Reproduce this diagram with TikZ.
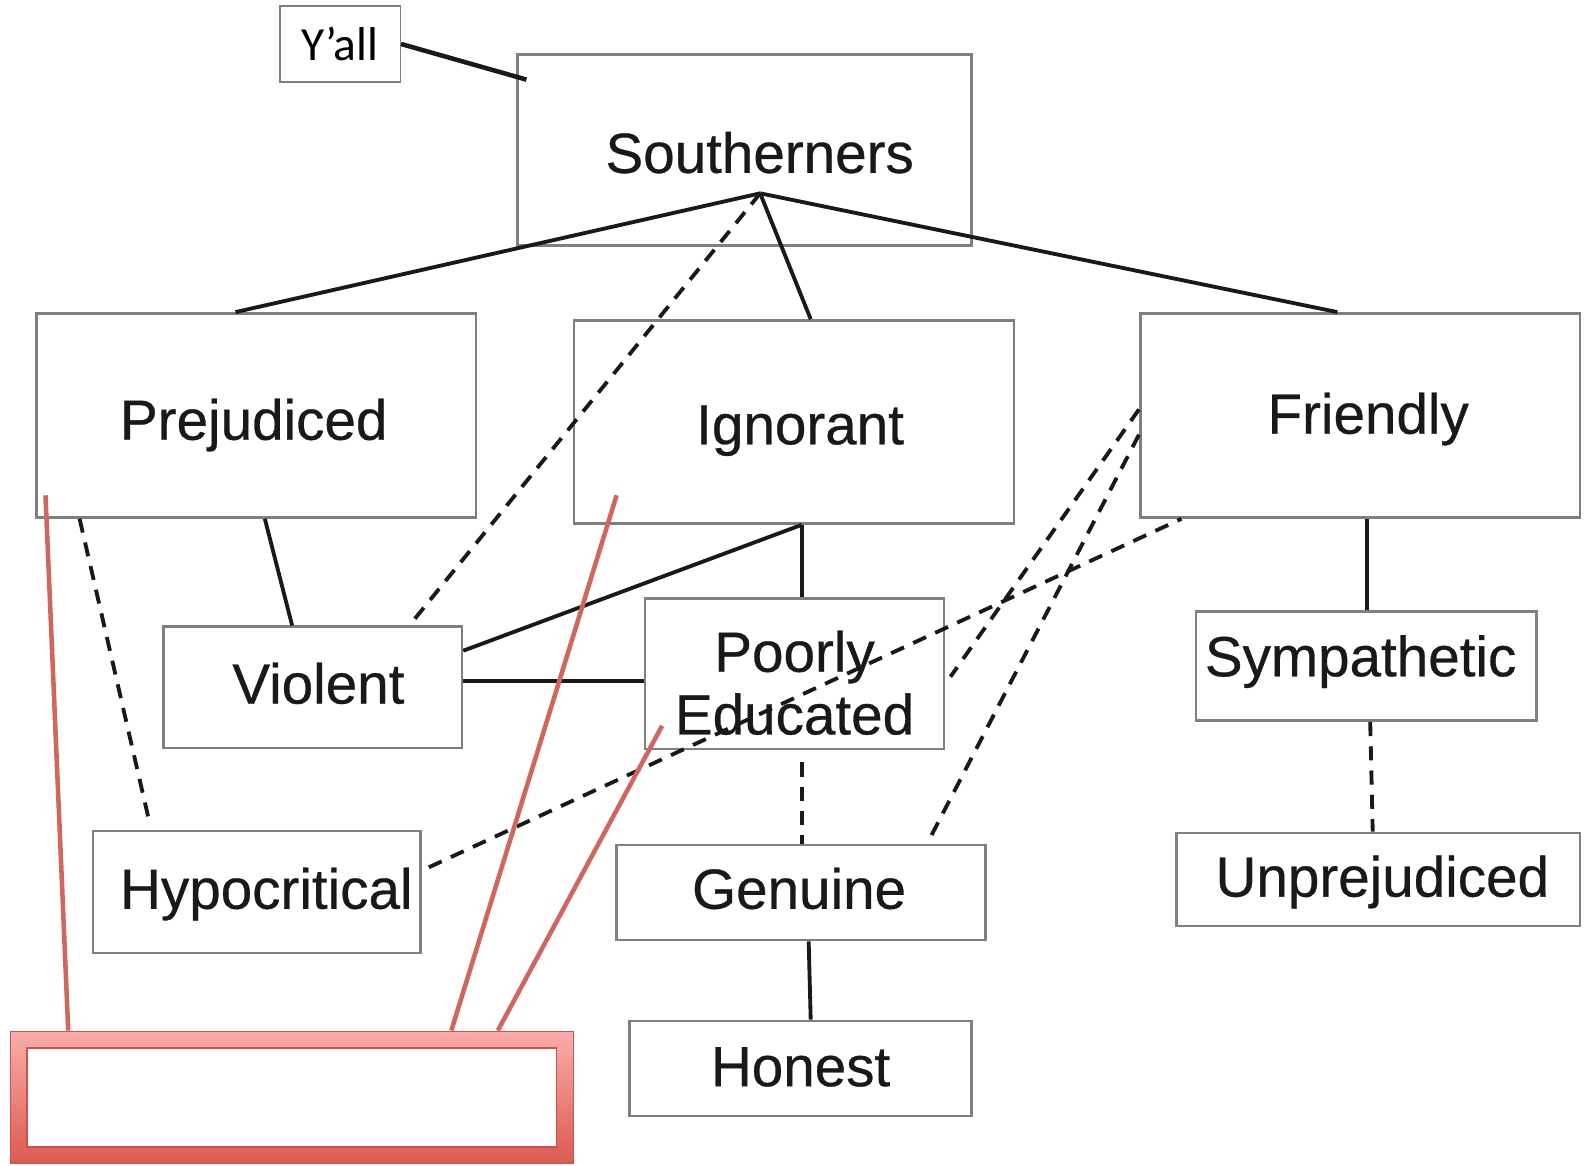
\documentclass[tikz,border=0pt]{standalone}
\usepackage{fontspec}
\setmainfont{Liberation Sans}
\newfontfamily\boxfont{Liberation Sans}[FakeBold=0.5]
\newfontfamily\calibrifont{Carlito}
\usetikzlibrary{calc}
\definecolor{boxgray}{HTML}{7F7F7F}
\definecolor{redline}{HTML}{D0675F}
\definecolor{redtop}{HTML}{FBADAA}
\definecolor{redbot}{HTML}{DB5A50}
\definecolor{rededge}{HTML}{C65550}
\tikzset{
  wordbox/.style={draw=boxgray, line width=2.5pt, fill=white, inner sep=0pt},
  wordtext/.style={font=\boxfont\fontsize{56}{62}\selectfont, text=black!90, align=center,
    inner sep=0pt, text height=40pt, text depth=0pt},
  link/.style={black!90, line width=3.8pt},
  dashlink/.style={black!90, line width=3.8pt, dash pattern=on 14pt off 10pt},
  redlink/.style={redline, line width=4.5pt},
}
\begin{document}
\begin{tikzpicture}[x=1pt,y=-1pt]
\useasboundingbox (0,0) rectangle (1568,1153);
% boxes
\node[wordbox, minimum width=449, minimum height=189,
  label={[wordtext, xshift=15pt, yshift=-2.5pt]center:Southerners}] (south) at (736.5,148.5) {};
\node[wordbox, minimum width=435, minimum height=202,
  label={[wordtext, xshift=-2.5pt, yshift=-4pt]center:Prejudiced}] (prej) at (253.5,411) {};
\node[wordbox, minimum width=435, minimum height=201,
  label={[wordtext, xshift=6pt, yshift=-2pt]center:Ignorant}] (ign) at (785.5,417.5) {};
\node[wordbox, minimum width=435, minimum height=202,
  label={[wordtext, xshift=8pt, yshift=2pt]center:Friendly}] (friend) at (1345.5,411) {};
\node[wordbox, minimum width=295, minimum height=120,
  label={[wordtext, xshift=5.5pt, yshift=4pt]center:Violent}] (viol) at (309.5,680) {};
\node[wordbox, minimum width=296, minimum height=149,
  label={[wordtext, text height=, text depth=, yshift=-9pt]center:Poorly\\Educated}] (poor) at (786,666.5) {};
\node[wordbox, minimum width=337, minimum height=108,
  label={[wordtext, xshift=-5.5pt, yshift=10pt]center:Sympathetic}] (symp) at (1351.5,659) {};
\node[wordbox, minimum width=324, minimum height=121,
  label={[wordtext, xshift=9.5pt, yshift=3.5pt]center:Hypocritical}] (hypo) at (254,882.5) {};
\node[wordbox, minimum width=365, minimum height=94,
  label={[wordtext, xshift=-2pt, yshift=4pt]center:Genuine}] (gen) at (792.5,883) {};
\node[wordbox, minimum width=399, minimum height=92,
  label={[wordtext, xshift=4pt, yshift=3pt]center:Unprejudiced}] (unpre) at (1363.5,870) {};
\node[wordbox, minimum width=338, minimum height=94,
  label={[wordtext, yshift=2.5pt]center:Honest}] (hon) at (792,1057) {};
\node[draw=boxgray, line width=1.5pt, fill=white, minimum width=119, minimum height=75, inner sep=0pt,
  font=\calibrifont\fontsize{47}{50}\selectfont] (yall) at (336.5,43.5) {Y’all};
% links
\draw[link, line width=4.5pt] (yall.east) -- ($(south.north west)+(10,26)$);
\coordinate (apex) at ($(south.south)+(15.5,-53)$);
\draw[link] (apex) -- ($(prej.north)+(-20.5,0)$);
\draw[link] (apex) -- ($(ign.north)+(16.5,0)$);
\draw[link] (apex) -- ($(friend.north)+(-22.5,0)$);
\draw[dashlink] (apex) -- ($(viol.north)+(95.5,0)$);
\draw[link] ($(prej.south)+(8.5,0)$) -- ($(viol.north)+(-20.5,0)$);
\draw[dashlink] ($(prej.south west)+(44,0)$) -- ($(hypo.north west)+(56,-12)$);
\draw[link] ($(ign.south)+(7.5,0)$) -- ($(viol.north east)+(0,25)$);
\draw[link] ($(ign.south)+(7.5,0)$) -- ($(poor.north)+(7,0)$);
\draw[link] ($(viol.east)+(0,-6)$) -- ($(poor.west)+(0,7.5)$);
\draw[dashlink] ($(hypo.east)+(7,-24.5)$) -- ($(friend.south west)+(42,0)$);
\draw[dashlink] ($(friend.west)+(0,-6)$) -- ($(poor.east)+(5,3)$);
\draw[dashlink] ($(friend.west)+(0,19)$) -- ($(gen.north east)+(-55,-8)$);
\draw[dashlink] ($(poor.south)+(7,12)$) -- ($(gen.north)+(0.5,0)$);
\draw[link] ($(gen.south)+(7.5,0)$) -- ($(hon.north)+(10,0)$);
\draw[link] ($(friend.south)+(6.5,0)$) -- ($(symp.north)+(0.5,0)$);
\draw[dashlink] ($(symp.south)+(4,0)$) -- ($(unpre.north)+(-5.5,0)$);
% red box
\node[top color=redtop, bottom color=redbot, draw=rededge, line width=1pt,
  minimum width=557, minimum height=131, inner sep=0pt] (redbox) at (288.5,1085.5) {};
\node[fill=white, draw=rededge, line width=1.5pt, minimum width=524, minimum height=98, inner sep=0pt]
  (redinner) at (redbox.center) {};
\coordinate (rA) at (45,490);
\coordinate (rB) at (610,490);
\coordinate (rC) at (655,718);
\draw[redlink] ($(redbox.north west)+(58,0)$) -- (rA);
\draw[redlink] ($(redbox.north west)+(437,0)$) -- (rB);
\draw[redlink] ($(redbox.north west)+(483,0)$) -- (rC);
\end{tikzpicture}
\end{document}
